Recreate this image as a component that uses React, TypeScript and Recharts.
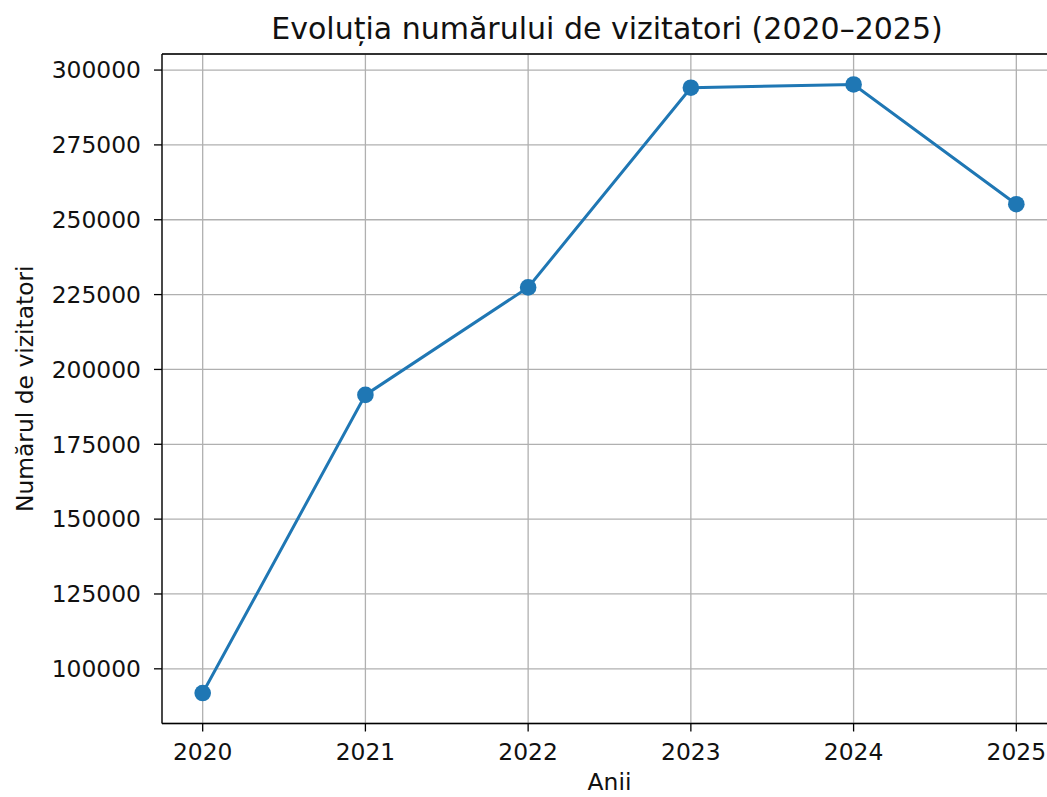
import {
  LineChart,
  Line,
  XAxis,
  YAxis,
  CartesianGrid,
  ReferenceLine,
} from "recharts";

const years = [2020, 2021, 2022, 2023, 2024, 2025];
const visitors = [91900, 191500, 227400, 294100, 295200, 255200];
const yTicks = [100000, 125000, 150000, 175000, 200000, 225000, 250000, 275000, 300000];

const FONT = "DejaVu Sans";
const BLUE = "#1f77b4";

const data = years.map((year, i) => ({ year, visitors: visitors[i] }));

// matplotlib-style 5% margins around the data
const xMin = years[0] - 0.25;
const xMax = years[years.length - 1] + 0.25;
const yRange = Math.max(...visitors) - Math.min(...visitors);
const yMin = Math.min(...visitors) - yRange * 0.05;
const yMax = Math.max(...visitors) + yRange * 0.05;

const tickStyle = { fontSize: 23.4, fontFamily: FONT, fill: "#111" };

const YLabel = (props: any) => {
  const vb = props.viewBox || { x: 0, y: 0, height: 0 };
  const cx = vb.x + 33;
  const cy = vb.y + vb.height / 2;
  return (
    <text
      x={cx}
      y={cy}
      transform={`rotate(-90, ${cx}, ${cy})`}
      textAnchor="middle"
      fontSize={23.4}
      fontFamily={FONT}
      fill="#111"
    >
      Numărul de vizitatori
    </text>
  );
};

export default function App() {
  return (
    <div
      style={{
        position: "fixed",
        left: 0,
        top: 0,
        width: 1047,
        height: 797,
        overflow: "hidden",
        background: "#fff",
      }}
    >
      <LineChart
        width={1100}
        height={797}
        data={data}
        margin={{ top: 54, right: 43, bottom: 0, left: 0 }}
      >
        <CartesianGrid stroke="#b0b0b0" strokeWidth={1.3} />
        <XAxis
          dataKey="year"
          type="number"
          domain={[xMin, xMax]}
          ticks={years}
          allowDataOverflow
          height={73.5}
          tickSize={8}
          tickMargin={12}
          tick={tickStyle}
          stroke="#000"
          strokeWidth={1.3}
          label={{
            value: "Anii",
            position: "insideBottom",
            offset: 7,
            fontSize: 23.4,
            fontFamily: FONT,
            fill: "#111",
          }}
        />
        <YAxis
          type="number"
          domain={[yMin, yMax]}
          ticks={yTicks}
          allowDataOverflow
          width={162}
          tickSize={8}
          tickMargin={13}
          tick={tickStyle}
          stroke="#000"
          strokeWidth={1.3}
          label={{ content: YLabel }}
        />
        <ReferenceLine y={yMax} stroke="#000" strokeWidth={1.3} />
        <Line
          dataKey="visitors"
          stroke={BLUE}
          strokeWidth={3}
          dot={{ r: 8.3, fill: BLUE, stroke: BLUE, strokeWidth: 0 }}
          activeDot={false}
          isAnimationActive={false}
        />
      </LineChart>
      <svg
        width={1047}
        height={797}
        style={{ position: "absolute", left: 0, top: 0, pointerEvents: "none" }}
      >
        <text x={607} y={39} textAnchor="middle" fontSize={30} fontFamily={FONT} fill="#111">
          Evoluția numărului de vizitatori (2020–2025)
        </text>
      </svg>
    </div>
  );
}
